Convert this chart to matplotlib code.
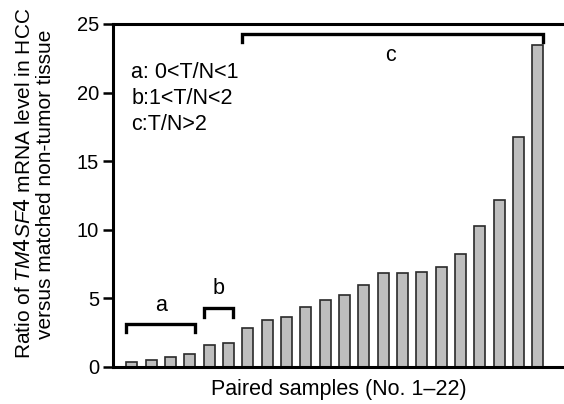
import numpy as np
import matplotlib.pyplot as plt

plt.rcParams['font.family'] = ['Liberation Sans', 'DejaVu Sans']
plt.rcParams['mathtext.fontset'] = 'custom'
plt.rcParams['mathtext.it'] = 'Liberation Sans:italic'

# ratio T/N for each paired sample, sorted
samples = np.arange(1, 23)
ratios = [0.35, 0.5, 0.75, 0.95, 1.6, 1.77, 2.82, 3.43, 3.67, 4.35, 4.88,
          5.25, 5.98, 6.83, 6.83, 6.9, 7.31, 8.24, 10.3, 12.2, 16.74, 23.5]
groups = ['a', 'b', 'c']
group_text = ['a: 0<T/N<1', 'b:1<T/N<2', 'c:T/N>2']

fig = plt.figure(figsize=(5.64, 4.04), dpi=100)
ax = fig.add_axes([0.2004, 0.0916, 0.7996, 0.849])

ax.bar(samples, ratios, width=0.57, color='#bebebe', edgecolor='#2a2a2a', linewidth=1.2)

ax.set_xlim(0.033, 23.36)
ax.set_ylim(0, 25)
ax.set_yticks(np.arange(0, 26, 5))
ax.set_xticks([])
ax.tick_params(axis='y', direction='out', length=7, width=1.8, labelsize=14.5, pad=3)

for s in ['left', 'bottom', 'top']:
    ax.spines[s].set_linewidth(2.2)
ax.spines['right'].set_visible(False)

# brackets
def bracket(x0, x1, ytop, ylow, label, ylab, xlab):
    ax.plot([x0, x0, x1, x1], [ylow, ytop, ytop, ylow], color='black', lw=2.4,
            solid_joinstyle='miter', clip_on=False)
    ax.text(xlab, ylab, label, ha='center', va='center', fontsize=15.5)

bracket(0.72, 4.28, 3.15, 2.55, 'a', 4.5, 2.5)
bracket(4.75, 6.25, 4.28, 3.67, 'b', 5.7, 5.5)
bracket(6.71, 22.25, 24.3, 23.7, 'c', 22.7, 14.36)

for i, t in enumerate(group_text):
    ax.text(0.04, 0.86 - i * 0.077, t, transform=ax.transAxes, fontsize=15.5,
            ha='left', va='center')

ax.set_ylabel('Ratio of $\\it{TM4SF4}$ mRNA level in HCC\nversus matched non-tumor tissue',
              fontsize=15, linespacing=1.15)
ax.yaxis.set_label_coords(-0.128, 0.534)
ax.set_xlabel('Paired samples (No. 1\u201322)', fontsize=15.5, labelpad=9)

plt.savefig('out.png', dpi=100)
